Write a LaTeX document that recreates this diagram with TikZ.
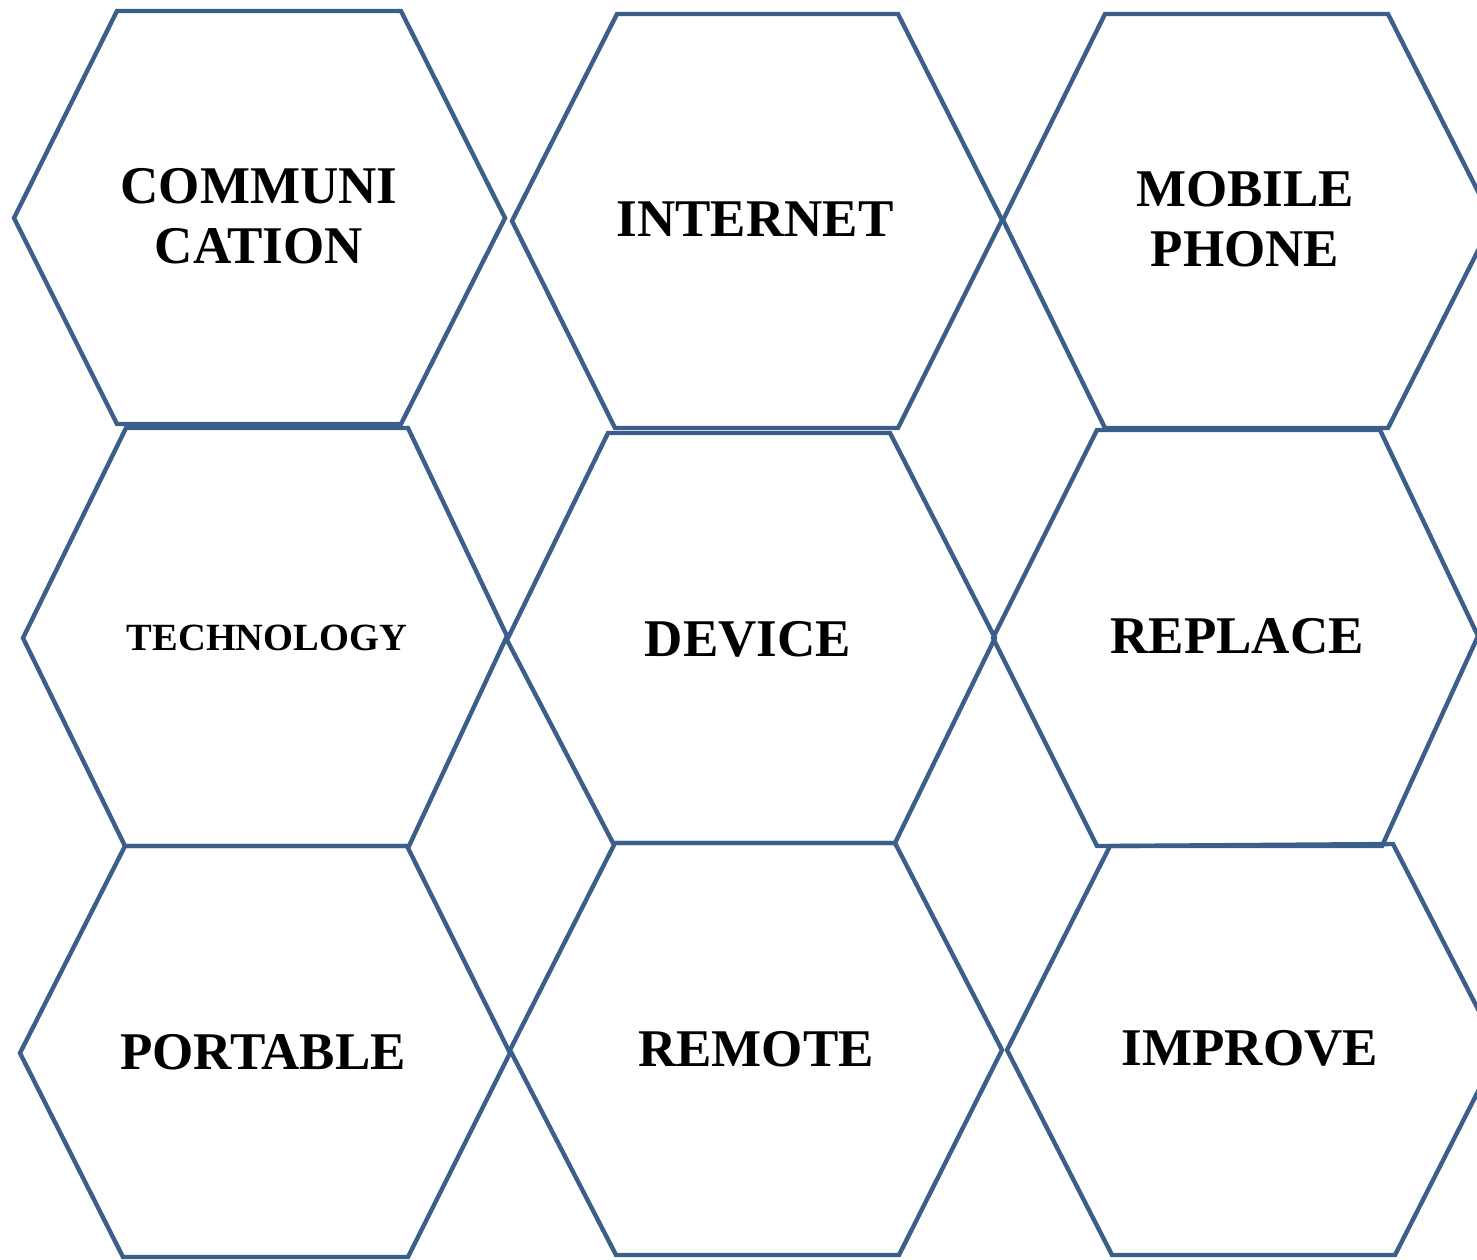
\documentclass[tikz,border=0pt]{standalone}
\usepackage{fontspec}
\setmainfont{Liberation Serif}
\definecolor{hexblue}{RGB}{59,94,139}
\tikzset{
  hexline/.style={draw=hexblue, line width=4.4pt, line join=miter},
  word/.style={font=\bfseries\fontsize{53}{60}\selectfont, align=center, inner sep=0pt, text=black},
  smallword/.style={font=\bfseries\fontsize{38.5}{46}\selectfont, inner sep=0pt, text=black}
}
\begin{document}
\begin{tikzpicture}[x=1pt,y=-1pt]
\useasboundingbox (0,0) rectangle (1477,1259);
\clip (0,0) rectangle (1477,1259);
% row 1
\draw[hexline] (14,218) -- (117,11) -- (401,11) -- (505,218) -- (401,424) -- (117,424) -- cycle;
\draw[hexline] (512,221) -- (617,14) -- (898,14) -- (1002,220) -- (898,428) -- (615,428) -- cycle;
\draw[hexline] (1003,220) -- (1105,14) -- (1388,14) -- (1493,221) -- (1388,428) -- (1105,428) -- cycle;
% row 2
\draw[hexline] (23,638) -- (126,428) -- (408,428) -- (507,636) -- (409,846) -- (125,846) -- cycle;
\draw[hexline] (507,640) -- (608,433) -- (890,433) -- (995,638) -- (895,843) -- (613,843) -- cycle;
\draw[hexline] (993,638) -- (1097,430) -- (1380,430) -- (1478,636) -- (1382,846) -- (1097,846) -- cycle;
% row 3
\draw[hexline] (20,1053) -- (125,846) -- (407,846) -- (510,1053) -- (408,1257) -- (123,1257) -- cycle;
\draw[hexline] (510,1050) -- (615,843) -- (895,843) -- (1002,1050) -- (899,1255) -- (616,1255) -- cycle;
\draw[hexline] (1007,1050) -- (1110,846) -- (1393,844) -- (1499,1050) -- (1395,1255) -- (1112,1255) -- cycle;
% labels
\node[word] (communication) at (259,216.5) {COMMUNI\\CATION};
\node[word] (internet) at (755,219.5) {INTERNET};
\node[word] (mobile) at (1245,219.5) {MOBILE\\PHONE};
\node[smallword] (technology) at (267,638) {TECHNOLOGY};
\node[word] (device) at (748,639.5) {DEVICE};
\node[word] (replace) at (1237,636.5) {REPLACE};
\node[word] (portable) at (263,1052.5) {PORTABLE};
\node[word] (remote) at (756,1049) {REMOTE};
\node[word] (improve) at (1250,1048.5) {IMPROVE};
\end{tikzpicture}
\end{document}
